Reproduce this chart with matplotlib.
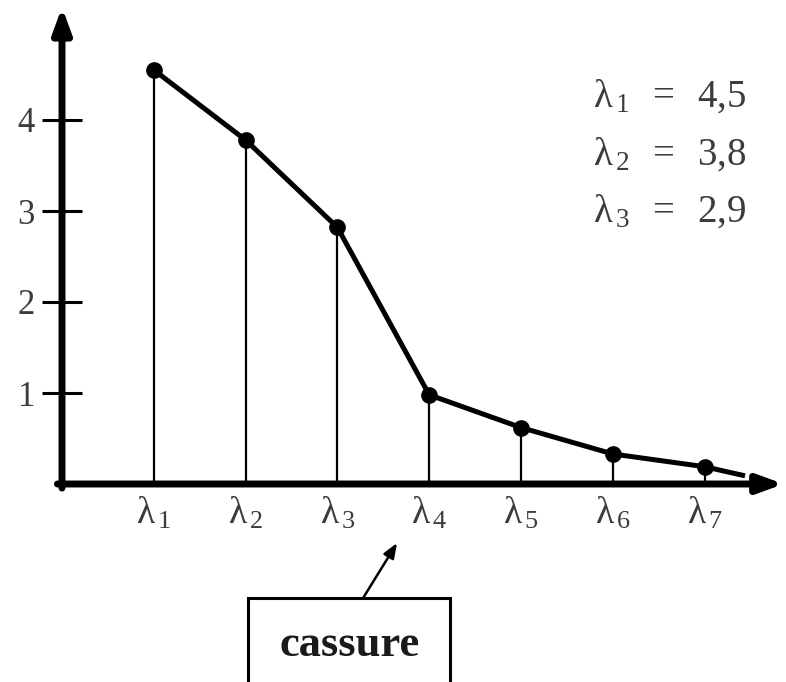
import matplotlib
matplotlib.use("Agg")
import matplotlib.pyplot as plt
from matplotlib.patches import Rectangle

plt.rcParams['mathtext.fontset'] = 'custom'
plt.rcParams['mathtext.rm'] = 'Liberation Serif'
plt.rcParams['mathtext.it'] = 'Liberation Serif'
plt.rcParams['font.family'] = ['Liberation Serif', 'DejaVu Serif']

# data
positions = [1, 2, 3, 4, 5, 6, 7]
eigenvalues = [4.55, 3.78, 2.82, 0.98, 0.62, 0.33, 0.19]
tail_x = [7, 7.44]
tail_y = [0.19, 0.09]
xlabels = [r'$\lambda_{\,%d}$' % i for i in positions]
yticks = [1, 2, 3, 4]
note_idx = [1, 2, 3]
note_vals = ['4{,}5', '3{,}8', '2{,}9']

W, H = 786, 682
x0px, y0px = 62, 484
sx, sy = 91.8, 91.0

fig = plt.figure(figsize=(W / 100, H / 100), dpi=100)
ax = fig.add_axes([x0px / W, (H - y0px) / H, (W - x0px) / W, y0px / H])
ax.set_xlim(0, (W - x0px) / sx)
ax.set_ylim(0, y0px / sy)
for s in ax.spines.values():
    s.set_visible(False)
ax.patch.set_alpha(0)

ink = '#3c3c3c'
# stems
ax.vlines(positions, 0, eigenvalues, colors='black', lw=1.6, zorder=2)
# line
ax.plot(positions + tail_x[1:], eigenvalues + tail_y[1:], color='black', lw=3.6,
        solid_capstyle='butt', zorder=3)
ax.plot(positions, eigenvalues, 'o', color='black', ms=11, zorder=4)

# axes arrows
ax.annotate('', xy=(0, 5.24), xytext=(0, -0.045),
            arrowprops=dict(arrowstyle='-|>,head_length=1.5,head_width=0.55', lw=5,
                            color='black', shrinkA=0, shrinkB=0),
            annotation_clip=False)
ax.annotate('', xy=(7.86, 0), xytext=(-0.05, 0),
            arrowprops=dict(arrowstyle='-|>,head_length=1.5,head_width=0.55', lw=5,
                            color='black', shrinkA=0, shrinkB=0),
            annotation_clip=False)

ax.set_yticks(yticks)
ax.set_yticklabels([str(v) for v in yticks])
ax.tick_params(axis='y', direction='inout', length=29, width=2.2, color='black',
               labelsize=25, labelcolor=ink, pad=5)
ax.set_xticks(positions)
ax.set_xticklabels(xlabels)
ax.tick_params(axis='x', length=0, labelsize=27, labelcolor=ink, pad=8)

for i, (k, v) in enumerate(zip(note_idx, note_vals)):
    t = r'$\lambda_{\,%d}\;\;=\;\;%s$' % (k, v)
    ax.text(5.78, 4.25 - i * 0.63, t, fontsize=28, color=ink, va='center', ha='left')

# cassure box
ax.add_patch(Rectangle((2.03, -2.4), 2.2, 2.4 - 1.253, fill=False, lw=2.2,
                       edgecolor='black', clip_on=False))
ax.text(3.13, -1.77, 'cassure', fontsize=32, fontweight='bold', color='#1a1a1a',
        ha='center', va='center')
ax.annotate('', xy=(3.65, -0.648), xytext=(3.28, -1.253),
            arrowprops=dict(arrowstyle='-|>,head_length=0.9,head_width=0.35', lw=1.8,
                            color='black', shrinkA=0, shrinkB=0),
            annotation_clip=False)

fig.savefig('out.png', dpi=100)
